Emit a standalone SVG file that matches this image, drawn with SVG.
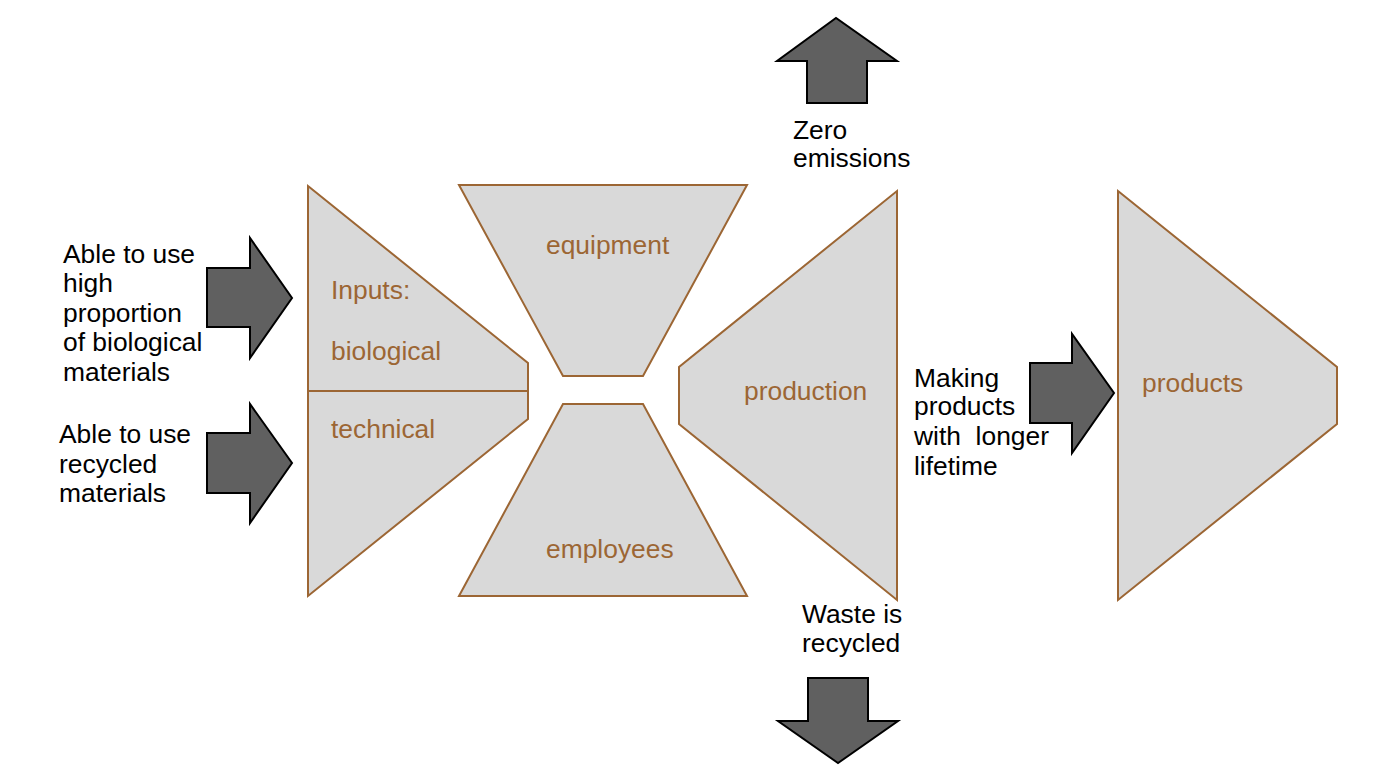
<svg xmlns="http://www.w3.org/2000/svg" width="1394" height="781" viewBox="0 0 1394 781">
<style>
.shape{fill:#d9d9d9;stroke:#9c6634;stroke-width:2;stroke-linejoin:miter}
.arrow{fill:#606060;stroke:#000;stroke-width:2;stroke-linejoin:miter}
.lbl{font-family:"Liberation Sans",Arial,sans-serif;font-size:26.4px;fill:#9c6634}
.txt{font-family:"Liberation Sans",Arial,sans-serif;font-size:26.4px;fill:#000}
</style>
<rect width="1394" height="781" fill="#fff"/>
<g id="inputs">
<polygon class="shape" points="308,186 528,363 528,419 308,596"/>
<line x1="308" y1="391" x2="528" y2="391" stroke="#9c6634" stroke-width="2"/>
<text class="lbl" x="331" y="299">Inputs:</text>
<text class="lbl" x="331" y="360">biological</text>
<text class="lbl" x="331" y="438">technical</text>
</g>
<g id="equipment">
<polygon class="shape" points="459,185 747,185 643,376 563,376"/>
<text class="lbl" x="546" y="254">equipment</text>
</g>
<g id="employees">
<polygon class="shape" points="563,404 643,404 747,596 459,596"/>
<text class="lbl" x="546" y="558">employees</text>
</g>
<g id="production">
<polygon class="shape" points="897,191 897,600 679,424 679,367"/>
<text class="lbl" x="744" y="400">production</text>
</g>
<g id="products">
<polygon class="shape" points="1118,191 1337,367 1337,424 1118,600"/>
<text class="lbl" x="1142" y="392">products</text>
</g>
<g id="connectors">
<polygon class="arrow" points="207,268 250,268 250,238 292,298 250,358 250,327 207,327"/>
<polygon class="arrow" points="207,433 250,433 250,404 292,463 250,523 250,493 207,493"/>
<polygon class="arrow" points="1030,363 1072,363 1072,334 1114,393 1072,453 1072,423 1030,423"/>
<polygon class="arrow" points="807,103 807,61 777,61 836,18 897,61 867,61 867,103"/>
<polygon class="arrow" points="808,678 868,678 868,721 898,721 838,763 778,721 808,721"/>
</g>
<g id="labels">
<text class="txt" x="63" y="263">Able to use</text>
<text class="txt" x="63" y="292">high</text>
<text class="txt" x="63" y="322">proportion</text>
<text class="txt" x="63" y="351">of biological</text>
<text class="txt" x="63" y="381">materials</text>
<text class="txt" x="59" y="443">Able to use</text>
<text class="txt" x="59" y="473">recycled</text>
<text class="txt" x="59" y="502">materials</text>
<text class="txt" x="793" y="139">Zero</text>
<text class="txt" x="793" y="167">emissions</text>
<text class="txt" x="802" y="623">Waste is</text>
<text class="txt" x="802" y="652">recycled</text>
<text class="txt" x="914" y="387">Making</text>
<text class="txt" x="914" y="415">products</text>
<text class="txt" x="914" y="445" xml:space="preserve">with  longer</text>
<text class="txt" x="914" y="475">lifetime</text>
</g>
</svg>
